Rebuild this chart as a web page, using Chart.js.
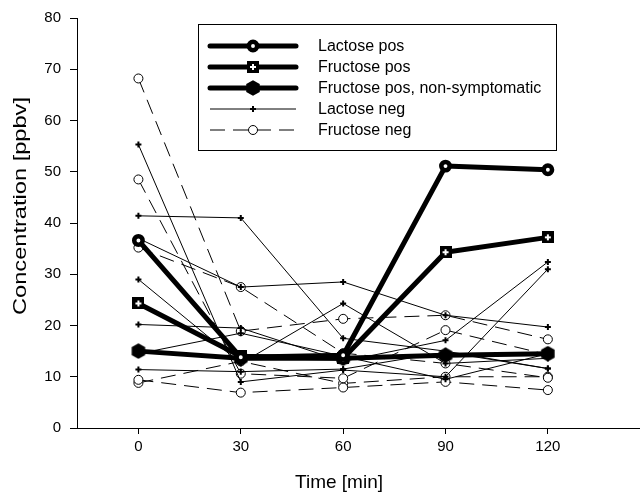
<!DOCTYPE html>
<html>
<head>
<meta charset="utf-8">
<script src="https://cdn.jsdelivr.net/npm/chart.js@4"></script>
<style>
    html, body { margin: 0; padding: 0; background: #fff; }
</style>
</head>
<body>
<canvas id="chart" width="640" height="496"></canvas>
<script>
// sampling times [min]
var times = [0, 30, 60, 90, 120];
var xTicks = [0, 30, 60, 90, 120];

// concentrations [ppbv]
var lactosePos = [36.6, 13.8, 14.2, 51.1, 50.4];
var fructosePos = [24.3, 14.0, 13.6, 34.3, 37.2];
var fructosePosNonSympt = [15.0, 13.6, 13.6, 14.2, 14.5];

var lactoseNeg = [
    [55.3, 9.0, 11.3, 10.0, 31.0],
    [41.4, 41.0, 17.5, 15.0, 11.6],
    [37.0, 27.5, 28.5, 22.0, 19.7],
    [29.0, 12.6, 24.3, 12.6, 13.6],
    [20.2, 19.5, 13.0, 17.1, 32.4],
    [11.4, 11.0, 11.5, 14.8, 11.6],
    [14.5, 18.5, 14.0, 9.5, 14.5],
];

var fructoseNeg = [
    [68.2, 18.9, 21.3, 22.0, 17.3],
    [48.5, 10.6, 9.7, 19.1, 14.3],
    [35.2, 27.5, 14.6, 12.6, 9.8],
    [9.4, 6.9, 7.9, 9.0, 7.4],
    [8.8, 13.0, 8.7, 10.0, 10.0],
];

var xTitle = 'Time [min]';
var yTitle = 'Concentration [ppbv]';

var FONT = '"Liberation Sans", Arial, Helvetica, sans-serif';

function squarePlus() {
    var c = document.createElement('canvas');
    c.width = 12; c.height = 12;
    var g = c.getContext('2d');
    g.fillStyle = '#000';
    g.fillRect(0, 0, 12, 12);
    g.fillStyle = '#fff';
    g.fillRect(5, 3, 2, 6);
    g.fillRect(3, 5, 6, 2);
    return c;
}

function hexagon() {
    var c = document.createElement('canvas');
    c.width = 16; c.height = 16;
    var g = c.getContext('2d');
    g.fillStyle = '#000';
    g.beginPath();
    for (let k = 0; k < 6; k++) {
        let a = Math.PI / 6 + k * Math.PI / 3;
        g.lineTo(8 + 7.8 * Math.cos(a), 8 + 7.8 * Math.sin(a));
    }
    g.closePath();
    g.fill();
    return c;
}

function toPoints(values) {
    var pts = [];
    for (let i = 0; i < values.length; i++) {
        pts.push({x: times[i], y: values[i]});
    }
    return pts;
}

var styles = {
    lactosePos: {
        label: 'Lactose pos', lineWidth: 5, dash: [],
        pointStyle: 'circle', radius: 4.2, pointBorderWidth: 4.5, bg: '#fff',
    },
    fructosePos: {
        label: 'Fructose pos', lineWidth: 5, dash: [],
        pointStyle: squarePlus(), radius: 6, pointBorderWidth: 0, bg: '#000',
    },
    nonSympt: {
        label: 'Fructose pos, non-symptomatic', lineWidth: 5, dash: [],
        pointStyle: hexagon(), radius: 8, pointBorderWidth: 0, bg: '#000',
    },
    lactoseNeg: {
        label: 'Lactose neg', lineWidth: 1, dash: [],
        pointStyle: 'cross', radius: 3, pointBorderWidth: 2, bg: '#000',
    },
    fructoseNeg: {
        label: 'Fructose neg', lineWidth: 1, dash: [15, 8],
        pointStyle: 'circle', radius: 4.5, pointBorderWidth: 1, bg: '#fff',
    },
};

function makeDataset(values, st) {
    return {
        data: toPoints(values),
        label: st.label,
        borderColor: '#000',
        backgroundColor: '#000',
        borderWidth: st.lineWidth,
        borderDash: st.dash,
        borderJoinStyle: 'round',
        tension: 0,
        pointStyle: st.pointStyle,
        pointRadius: st.radius,
        pointHoverRadius: st.radius,
        pointBorderWidth: st.pointBorderWidth,
        pointBorderColor: '#000',
        pointBackgroundColor: st.bg,
    };
}

// first dataset ends up on top, so the thick ones go first
var datasets = [
    makeDataset(lactosePos, styles.lactosePos),
    makeDataset(fructosePos, styles.fructosePos),
    makeDataset(fructosePosNonSympt, styles.nonSympt),
];
lactoseNeg.forEach(function (v) { datasets.push(makeDataset(v, styles.lactoseNeg)); });
fructoseNeg.forEach(function (v) { datasets.push(makeDataset(v, styles.fructoseNeg)); });

var legendEntries = [styles.lactosePos, styles.fructosePos, styles.nonSympt, styles.lactoseNeg, styles.fructoseNeg];

// boxed legend inside the plot, one entry per group, plus the axis titles
var legendBox = {
    id: 'legendBox',
    afterDatasetsDraw(chart) {
        var ctx = chart.ctx;
        ctx.save();
        ctx.fillStyle = '#fff';
        ctx.fillRect(198, 24, 358, 126);
        ctx.strokeStyle = '#000';
        ctx.lineWidth = 1;
        ctx.strokeRect(198.5, 24.5, 358, 126);
        for (let i = 0; i < legendEntries.length; i++) {
            let e = legendEntries[i];
            let y = 46 + i * 21;
            ctx.beginPath();
            ctx.setLineDash(e.dash);
            ctx.lineWidth = e.lineWidth;
            ctx.lineCap = e.lineWidth > 2 ? 'round' : 'butt';
            ctx.strokeStyle = '#000';
            ctx.moveTo(210, y);
            ctx.lineTo(296, y);
            ctx.stroke();
            ctx.setLineDash([]);
            ctx.fillStyle = e.bg;
            ctx.strokeStyle = '#000';
            ctx.lineWidth = e.pointBorderWidth;
            Chart.helpers.drawPoint(ctx, {
                pointStyle: e.pointStyle, rotation: 0,
                radius: e.radius, borderWidth: e.pointBorderWidth,
            }, 253, y);
            ctx.fillStyle = '#000';
            ctx.font = '16px ' + FONT;
            ctx.textAlign = 'left';
            ctx.textBaseline = 'middle';
            ctx.fillText(e.label, 318, y + 1);
        }

        // axis titles (the original figure is a bit stretched vertically)
        ctx.fillStyle = '#000';
        ctx.font = '19px ' + FONT;
        ctx.textAlign = 'center';
        ctx.textBaseline = 'middle';
        ctx.fillText(xTitle, 339, 483);

        ctx.translate(21, 206);
        ctx.rotate(-Math.PI / 2);
        var w = ctx.measureText(yTitle).width;
        ctx.scale(218 / w, 1);
        ctx.fillText(yTitle, 0, 0);
        ctx.restore();
    },
};

var ctx = document.getElementById('chart').getContext('2d');
var chart = new Chart(ctx, {
    type: 'line',
    data: {datasets: datasets},
    options: {
        responsive: false,
        animation: false,
        events: [],
        layout: {autoPadding: false, padding: {top: 17, right: 0, left: 0, bottom: 0}},
        plugins: {
            legend: {display: false},
            tooltip: {enabled: false},
        },
        scales: {
            x: {
                type: 'linear',
                min: -18,
                max: 147,
                afterBuildTicks: function (scale) {
                    scale.ticks = xTicks.map(function (v) { return {value: v}; });
                },
                afterFit: function (scale) { scale.height = 68; },
                grid: {display: true, drawOnChartArea: false, drawTicks: true, tickLength: 6, color: '#000'},
                border: {display: true, color: '#000', width: 1},
                ticks: {color: '#000', font: {family: FONT, size: 15}, padding: 4, maxRotation: 0},
            },
            y: {
                min: 0,
                max: 80,
                afterFit: function (scale) { scale.width = 77; },
                grid: {display: true, drawOnChartArea: false, drawTicks: true, tickLength: 7, color: '#000'},
                border: {display: true, color: '#000', width: 1},
                ticks: {stepSize: 10, color: '#000', font: {family: FONT, size: 15}, padding: 9},
            },
        },
    },
    plugins: [legendBox],
});
</script>
</body>
</html>
